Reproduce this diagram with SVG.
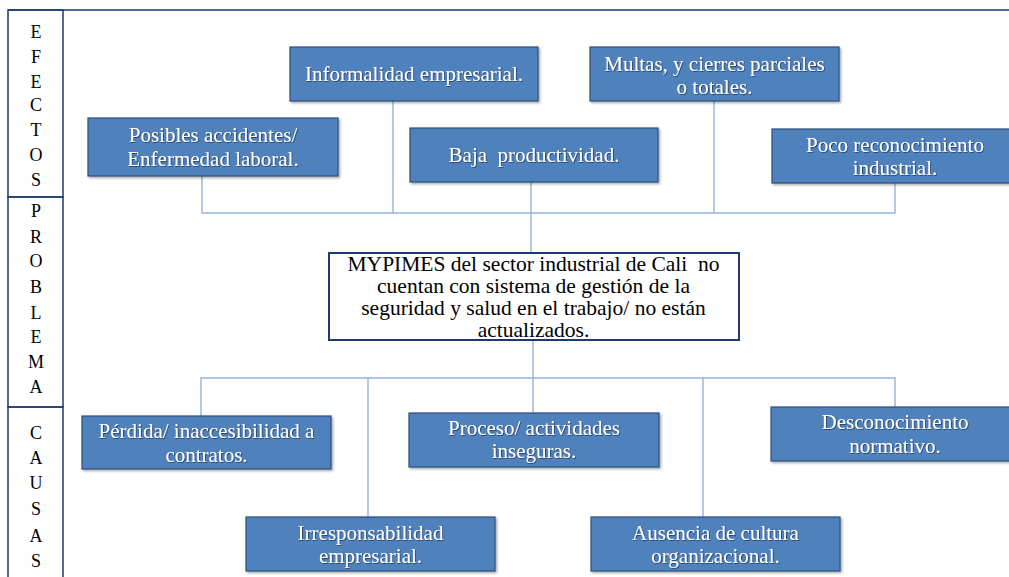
<svg xmlns="http://www.w3.org/2000/svg" width="1009" height="577" viewBox="0 0 1009 577">
  <defs>
    <filter id="shadow" x="-5%" y="-10%" width="115%" height="130%">
      <feDropShadow dx="1.5" dy="1.5" stdDeviation="1" flood-color="#000" flood-opacity="0.35"/>
    </filter>
    <filter id="textShadow" x="-5%" y="-20%" width="110%" height="140%">
      <feDropShadow dx="0.8" dy="0.8" stdDeviation="0.6" flood-color="#1a2c45" flood-opacity="0.8"/>
    </filter>
  </defs>
  <style>
    .frame { fill: none; stroke: #1F3A6E; stroke-width: 1.5; }
    .side { font-family: "Liberation Serif", "Times New Roman", serif; font-size: 18px; fill: #000; text-anchor: middle; }
    .box rect { fill: #4F81BD; stroke: #2F4F7A; stroke-width: 1.2; filter: url(#shadow); }
    .box text { font-family: "Liberation Serif", "Times New Roman", serif; font-size: 21px; fill: #fff; text-anchor: middle; white-space: pre; filter: url(#textShadow); }
    .core rect { fill: #fff; stroke: #1F3A6E; stroke-width: 2; }
    .core text { font-family: "Liberation Serif", "Times New Roman", serif; font-size: 21.5px; fill: #000; text-anchor: middle; white-space: pre; }
    .conn { fill: none; stroke: #95B3D7; stroke-width: 1.4; }
  </style>

  <rect width="1009" height="577" fill="#fff"/>

  <!-- outer frame and side column -->
  <g id="frame">
    <line class="frame" x1="8" y1="10" x2="1009" y2="10"/>
    <rect class="frame" x="8" y="10" width="55" height="187"/>
    <rect class="frame" x="8" y="197" width="55" height="210"/>
    <rect class="frame" x="8" y="407" width="55" height="175"/>
  </g>

  <g id="label-efectos" class="side">
    <text x="36" y="38">E</text>
    <text x="36" y="63">F</text>
    <text x="36" y="88">E</text>
    <text x="36" y="111">C</text>
    <text x="36" y="136">T</text>
    <text x="36" y="161">O</text>
    <text x="36" y="186">S</text>
  </g>
  <g id="label-problema" class="side">
    <text x="36" y="217">P</text>
    <text x="36" y="243">R</text>
    <text x="36" y="267">O</text>
    <text x="36" y="293">B</text>
    <text x="36" y="319">L</text>
    <text x="36" y="343">E</text>
    <text x="36" y="368">M</text>
    <text x="36" y="393">A</text>
  </g>
  <g id="label-causas" class="side">
    <text x="36" y="439">C</text>
    <text x="36" y="464">A</text>
    <text x="36" y="489">U</text>
    <text x="36" y="515">S</text>
    <text x="36" y="542">A</text>
    <text x="36" y="567">S</text>
  </g>

  <!-- connectors -->
  <g id="connectors">
    <path class="conn" d="M202 176 V213 H895 V183"/>
    <path class="conn" d="M393 101 V213"/>
    <path class="conn" d="M714 101 V213"/>
    <path class="conn" d="M531 182 V253"/>
    <path class="conn" d="M533 340 V378"/>
    <path class="conn" d="M201 416 V378 H895 V407"/>
    <path class="conn" d="M368 378 V517"/>
    <path class="conn" d="M533 378 V413"/>
    <path class="conn" d="M703 378 V517"/>
  </g>

  <!-- effects -->
  <g id="informalidad" class="box">
    <rect x="290" y="47" width="248" height="54"/>
    <text x="414" y="81">Informalidad empresarial.</text>
  </g>
  <g id="multas" class="box">
    <rect x="590" y="47" width="249" height="54"/>
    <text x="714.5" y="71">Multas, y cierres parciales</text>
    <text x="714.5" y="94">o totales.</text>
  </g>
  <g id="accidentes" class="box">
    <rect x="88" y="118" width="250" height="58"/>
    <text x="213" y="142">Posibles accidentes/</text>
    <text x="213" y="166">Enfermedad laboral.</text>
  </g>
  <g id="productividad" class="box">
    <rect x="410" y="128" width="248" height="54"/>
    <text x="534" y="162">Baja  productividad.</text>
  </g>
  <g id="reconocimiento" class="box">
    <rect x="772" y="129" width="240" height="54"/>
    <text x="895" y="152">Poco reconocimiento</text>
    <text x="895" y="175">industrial.</text>
  </g>

  <!-- central problem -->
  <g id="problema" class="core">
    <rect x="329" y="253" width="410" height="87"/>
    <text x="533.5" y="271">MYPIMES del sector industrial de Cali  no</text>
    <text x="533.5" y="293">cuentan con sistema de gestión de la</text>
    <text x="533.5" y="315">seguridad y salud en el trabajo/ no están</text>
    <text x="533.5" y="337">actualizados.</text>
  </g>

  <!-- causes -->
  <g id="perdida" class="box">
    <rect x="82" y="416" width="249" height="53"/>
    <text x="206.5" y="438">Pérdida/ inaccesibilidad a</text>
    <text x="206.5" y="462">contratos.</text>
  </g>
  <g id="proceso" class="box">
    <rect x="409" y="413" width="250" height="54"/>
    <text x="534" y="435">Proceso/ actividades</text>
    <text x="534" y="458">inseguras.</text>
  </g>
  <g id="desconocimiento" class="box">
    <rect x="771" y="407" width="241" height="54"/>
    <text x="895" y="429">Desconocimiento</text>
    <text x="895" y="453">normativo.</text>
  </g>
  <g id="irresponsabilidad" class="box">
    <rect x="246" y="517" width="249" height="54"/>
    <text x="370.5" y="540">Irresponsabilidad</text>
    <text x="370.5" y="563">empresarial.</text>
  </g>
  <g id="ausencia" class="box">
    <rect x="591" y="517" width="249" height="54"/>
    <text x="715.5" y="540">Ausencia de cultura</text>
    <text x="715.5" y="563">organizacional.</text>
  </g>
</svg>
